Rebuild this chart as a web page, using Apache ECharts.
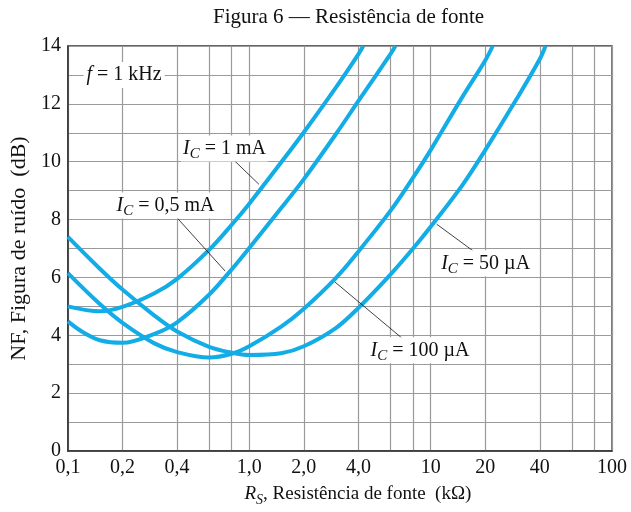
<!DOCTYPE html>
<html><head><meta charset="utf-8">
<script src="https://cdn.jsdelivr.net/npm/echarts@6/dist/echarts.min.js"></script>
<style>html,body{margin:0;padding:0;background:#fff}#c{width:631px;height:512px}</style>
</head><body><div id="c"></div>
<script>
// ---- axis ticks ----
const xGridValues = [0.1,0.2,0.4,0.6,0.8,1,2,4,6,8,10,20,40,60,80,100];
const xTickValues = [0.1,0.2,0.4,1,2,4,10,20,40,100];
const xTickLabels = ['0,1','0,2','0,4','1,0','2,0','4,0','10','20','40','100'];
const yTickValues = [0,2,4,6,8,10,12,14];

// ---- series: R_S (kOhm) and NF (dB) ----
const rs1mA  = [0.1, 0.15, 0.2, 0.3, 0.4, 0.6, 0.8, 1.0, 1.5, 2, 3, 4, 4.25];
const nf1mA  = [5.0, 4.83, 4.98, 5.45, 5.95, 6.95, 7.82, 8.55, 9.98, 11.02, 12.56, 13.72, 14];

const rs05mA = [0.1, 0.12, 0.15, 0.2, 0.3, 0.4, 0.6, 0.8, 1.0, 1.5, 2, 3, 4, 6, 6.4];
const nf05mA = [4.48, 4.12, 3.83, 3.74, 4.05, 4.45, 5.4, 6.28, 7.02, 8.4, 9.4, 10.95, 12.1, 13.72, 14];

const rs100uA = [0.1, 0.15, 0.2, 0.3, 0.4, 0.6, 0.8, 1.0, 1.5, 2, 3, 4, 6, 8, 10, 15, 20, 22];
const nf100uA = [6.15, 5.08, 4.43, 3.72, 3.42, 3.23, 3.36, 3.62, 4.3, 4.92, 5.98, 6.9, 8.3, 9.45, 10.4, 12.25, 13.5, 14];

const rs50uA = [0.1, 0.15, 0.2, 0.3, 0.4, 0.6, 0.8, 1.0, 1.5, 2, 3, 4, 6, 8, 10, 15, 20, 30, 40, 43];
const nf50uA = [7.4, 6.3, 5.58, 4.68, 4.13, 3.6, 3.4, 3.32, 3.38, 3.62, 4.25, 4.95, 6.1, 7.0, 7.75, 9.2, 10.4, 12.2, 13.55, 14];

const FONT = 'Liberation Serif';
const CYAN = '#12ACE6';
const GRIDC = '#9a9a9a';
const FRAME = '#333333';

function pairs(r, n) { return r.map((v, i) => [v, n[i]]); }
function fmtX(v) {
  const i = xTickValues.findIndex(t => Math.abs(t - v) / t < 1e-6);
  return i >= 0 ? xTickLabels[i] : '';
}
const richIC = {
  i: { fontFamily: FONT, fontSize: 20, fontStyle: 'italic', color: '#111', lineHeight: 26 },
  s: { fontFamily: FONT, fontSize: 15, fontStyle: 'italic', color: '#111', lineHeight: 12, verticalAlign: 'bottom' },
  n: { fontFamily: FONT, fontSize: 20, color: '#111', lineHeight: 26 }
};
function leader(a, b) {
  return {
    silent: true, symbol: ['none', 'none'], animation: false,
    lineStyle: { color: '#111', width: 0.8, type: 'solid' },
    label: { show: false }, emphasis: { disabled: true },
    data: [[{ coord: a }, { coord: b }]]
  };
}
function note(coord, text) {
  return {
    silent: true, symbol: 'rect', symbolSize: 1, animation: false,
    itemStyle: { color: 'rgba(0,0,0,0)' },
    label: {
      show: true, position: 'inside', formatter: text, rich: richIC,
      backgroundColor: '#fff', padding: [0, 2]
    },
    data: [{ coord: coord }]
  };
}
function curve(name, r, n, extra) {
  return Object.assign({
    type: 'line', name: name, data: pairs(r, n), smooth: 0.35,
    symbol: 'none', showSymbol: false, clip: true,
    lineStyle: { color: CYAN, width: 4 }, itemStyle: { color: CYAN },
    z: 3
  }, extra || {});
}

const chart = echarts.init(document.getElementById('c'));
chart.setOption({
  animation: false,
  backgroundColor: '#fff',
  title: {
    text: 'Figura 6 — Resistência de fonte', left: 208, top: 2, textAlign: 'left',
    textStyle: { fontFamily: FONT, fontSize: 21, fontWeight: 'normal', color: '#111' }
  },
  grid: { left: 64, right: 19, top: 46, bottom: 61, show: true, borderColor: FRAME, borderWidth: 1.3, backgroundColor: 'transparent' },
  xAxis: {
    type: 'log', logBase: 10, min: 0.1, max: 100,
    axisLine: { show: true, lineStyle: { color: FRAME, width: 1.5 } },
    axisTick: { show: false, customValues: xGridValues },
    axisLabel: { customValues: xTickValues, formatter: fmtX, fontFamily: FONT, fontSize: 20, color: '#111', margin: 7 },
    splitLine: { show: true, lineStyle: { color: GRIDC, width: 1.2 } },
    name: '{ri|R}{rs|S}{n|, Resistência de fonte  (kΩ)}', nameLocation: 'middle', nameGap: 30,
    nameTextStyle: {
      padding: [0, 0, 0, 36],
      rich: {
        ri: { fontFamily: FONT, fontSize: 19, fontStyle: 'italic', color: '#111', lineHeight: 26 },
        rs: { fontFamily: FONT, fontSize: 14, fontStyle: 'italic', color: '#111', lineHeight: 12, verticalAlign: 'bottom' },
        n: { fontFamily: FONT, fontSize: 19, color: '#111', lineHeight: 26 }
      }
    }
  },
  yAxis: {
    type: 'value', min: 0, max: 14, interval: 1,
    axisLine: { show: true, lineStyle: { color: FRAME, width: 1.5 } },
    axisTick: { show: false },
    axisLabel: {
      formatter: v => (yTickValues.indexOf(v) >= 0 ? String(v) : ''),
      fontFamily: FONT, fontSize: 20, color: '#111', margin: 7
    },
    splitLine: { show: true, lineStyle: { color: GRIDC, width: 1.2 } },
    name: 'NF, Figura de ruído  (dB)', nameLocation: 'middle', nameGap: 34,
    nameTextStyle: { fontFamily: FONT, fontSize: 22, color: '#111' }
  },
  series: [
    curve('IC = 1 mA', rs1mA, nf1mA, {
      markLine: leader([0.79, 10.16], [1.13, 9.22]),
      markPoint: {
        silent: true, symbol: 'rect', symbolSize: 1, animation: false,
        itemStyle: { color: 'rgba(0,0,0,0)' },
        data: [
          { coord: [0.73, 10.46], label: { show: true, position: 'inside', formatter: '{i|I}{s|C}{n| = 1 mA}', rich: richIC, backgroundColor: '#fff', padding: [0, 2] } },
          { coord: [0.204, 13.0], label: { show: true, position: 'inside', formatter: '{i|f}{n| = 1 kHz}', rich: richIC, backgroundColor: '#fff', padding: [0, 3] } }
        ]
      }
    }),
    curve('IC = 0,5 mA', rs05mA, nf05mA, {
      markLine: leader([0.404, 8.03], [0.736, 6.22]),
      markPoint: note([0.345, 8.49], '{i|I}{s|C}{n| = 0,5 mA}')
    }),
    curve('IC = 100 µA', rs100uA, nf100uA, {
      markLine: leader([2.97, 5.84], [7.17, 3.83]),
      markPoint: note([8.74, 3.48], '{i|I}{s|C}{n| = 100 µA}')
    }),
    curve('IC = 50 µA', rs50uA, nf50uA, {
      markLine: leader([10.8, 7.84], [17.2, 6.91]),
      markPoint: note([20.1, 6.49], '{i|I}{s|C}{n| = 50 µA}')
    })
  ]
});
</script>
</body></html>
